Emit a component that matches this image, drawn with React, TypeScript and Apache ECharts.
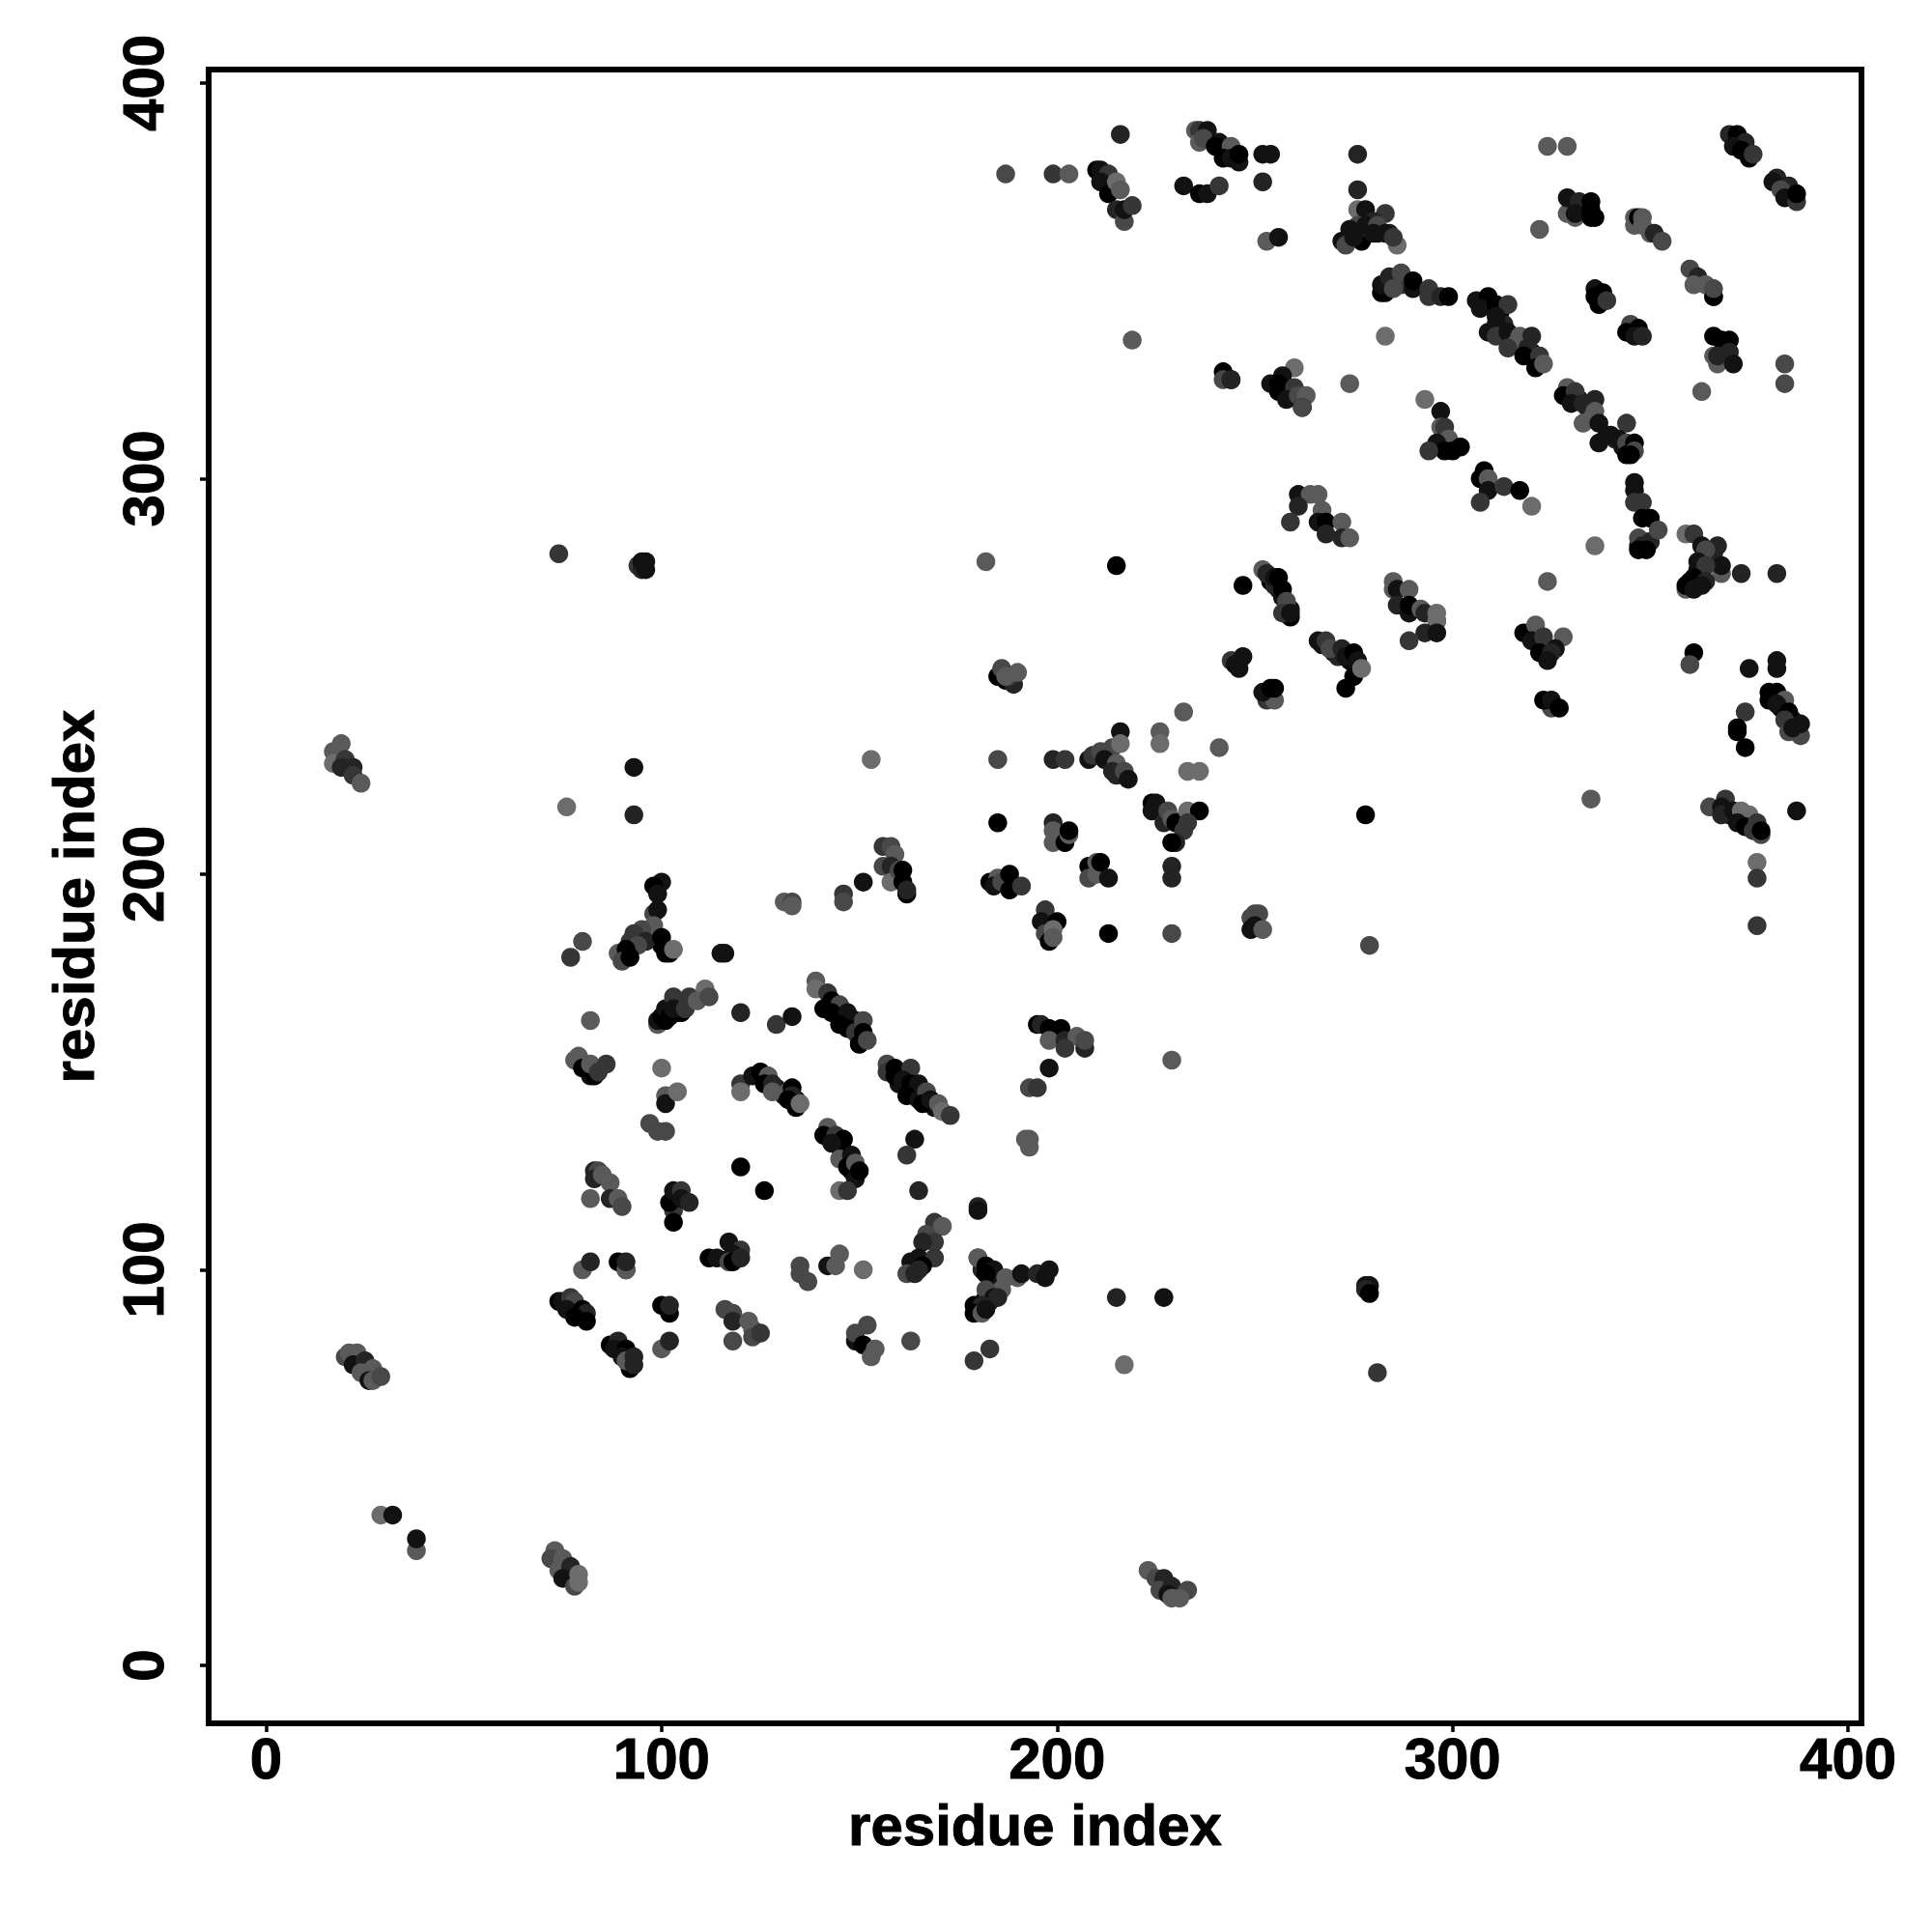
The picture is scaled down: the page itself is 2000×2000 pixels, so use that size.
import React, { useEffect, useRef } from "react";
import * as echarts from "echarts";

// each point: [residue i, residue j, grey level 0 (black) .. 6 (light grey)]
const denseCores = [[254,274,0],[256,272,1],[257,270,1],[258,268,0],[259,267,1],[259,265,0],[255,273,2],
  [267,258,1],[270,256,1],[271,255,2],[274,254,0],[276,252,1],
  [146,164,1],[148,162,2],[149,163,0],[144,166,1],[150,158,1],[158,150,0],[160,147,1],[164,145,0],[167,143,0],[169,141,1],
  [129,146,1],[131,144,1],[134,143,0],[146,130,2],[148,128,0],[148,125,1],[145,131,0],
  [309,344,1],[312,342,0],[313,339,2],[312,337,1],[315,335,2],[317,334,1],[320,332,1],[322,329,0],
  [332,320,1],[334,318,2],[335,316,1],[340,311,1],[343,308,1],[345,307,0],[341,310,2],[349,284,1],[347,283,1],
  [362,277,1],[365,279,1],[363,276,1],[366,281,2],[360,274,1],[362,273,0],
  [274,361,1],[276,362,1],[277,360,0],[279,363,2],[281,362,1],[284,362,2],[283,349,1],[285,350,1],[287,349,3],
  [370,215,1],[373,214,1],[375,213,2],[377,211,1],[381,245,1],[383,242,0],[386,239,1],[387,236,2],
  [92,181,1],[94,183,2],[96,184,1],[91,180,1],[100,182,0],[102,180,0],[100,163,0],[102,166,1],[104,165,1],
  [180,91,1],[183,92,1],[181,100,2],[184,96,2],[183,98,1],[182,93,0]];
const bottomLeft = [[20,78,4],[21,79,5],[23,79,5],[22,76,1],[25,77,2],[24,74,5],[27,75,5],[26,72,1],[27,72,5],[29,73,4],
  [29,38,6],[32,38,1],[38,29,5],[38,32,1],
  [73,29,5],[72,27,4],[75,27,5],[74,24,5],[77,25,2],[75,22,1],[78,20,4],[79,23,6],[79,21,6]];
const bottomMiddle = [[223,24,5],[225,22,4],[227,22,2],[226,19,4],[229,20,2],[228,18,1],[233,19,4],[229,17,5],[231,17,5]];
const leftIsland = [[19,233,5],[17,231,5],[17,228,6],[20,229,3],[19,227,2],[22,227,2],[22,225,3],[24,223,5],
  [74,281,3],[94,278,3],[95,277,2],[96,277,1],[95,279,1],[96,279,1],[93,227,1],[93,215,2],[76,217,6],[153,229,6],[182,279,5],[215,278,0]];
const topOfHelix = [[100,198,1],[98,197,0],[99,195,1],[98,190,4],[99,191,1],[98,187,5],[95,186,4],[93,185,3],[96,183,2],[92,183,3],[100,184,0],
  [94,182,4],[89,180,5],[91,181,0],[90,178,4],[92,179,0],[101,180,0],[103,181,6],[115,180,1],[116,180,1],[80,183,4],[77,179,3]];
const ridgeA = [[82,163,5],[99,162,5],[99,163,1],[100,164,0],[101,163,0],[101,166,1],[102,164,0],[105,165,0],[104,167,1],[103,169,3],[103,166,1],
  [107,169,3],[106,166,3],[111,171,6],[109,168,5],[112,169,4],[120,165,2],[129,162,3],[133,164,1]];
const ridgeB = [[139,173,5],[139,171,6],[142,170,3],[143,168,0],[145,167,4],[141,166,0],[143,165,0],[147,165,1],[145,162,0],[147,161,0],[149,160,3],
  [151,163,4],[151,160,0],[150,157,0],[152,158,4]];
const ridgeC = [[78,153,5],[79,154,5],[81,151,2],[82,149,1],[80,151,0],[83,149,0],[82,152,5],[84,150,3],[86,152,3],[100,151,6],[101,144,5],[101,142,1],[104,145,6],[97,137,4],[99,135,4],[101,135,4]];
const ridgeD = [[120,147,3],[120,145,6],[123,149,1],[125,150,0],[127,149,5],[126,147,0],[128,147,2],[128,145,5],[132,145,5],[133,146,0],[133,144,2],[132,143,0],[134,141,0],[135,142,6]];
const ridgeE = [[157,152,4],[157,150,3],[159,151,0],[159,149,0],[163,151,3],[161,148,1],[163,147,0],[165,147,1],[162,144,0],[165,143,1],[167,145,4],[166,142,0],[168,143,1],[170,142,5],[171,140,6],[173,139,3]];
const ridgeF = [[142,136,5],[141,134,0],[144,134,3],[146,133,0],[143,132,1],[145,128,5],[148,129,1],[147,126,0],[149,127,5],[149,123,1],[150,125,0],[145,120,6],[147,120,3],
  [164,133,1],[162,129,3],[165,120,2],[120,126,0],[126,120,0],[180,116,2],[180,115,1]];
const ridgeG = [[83,125,2],[84,125,4],[83,123,2],[85,124,5],[87,122,5],[82,118,5],[87,118,2],[89,118,5],[90,116,4],
  [103,115,3],[103,112,0],[102,117,0],[103,120,1],[105,120,3],[105,118,1],[107,117,2]];
const ridgeH = [[112,103,0],[114,103,1],[117,107,1],[120,105,3],[118,104,1],[117,102,4],[118,102,0],[120,103,2],
  [80,100,5],[82,102,2],[89,102,0],[91,100,0],[91,100,5],[91,102,2],[135,101,4],[135,99,4],[137,97,4],[142,101,1],[144,101,5],[145,104,5],[151,100,6]];
const ridgeI = [[169,112,3],[171,111,5],[167,109,4],[169,107,3],[166,107,2],[165,103,1],[169,103,3],[163,102,1],[162,99,4],[164,99,2],[166,101,0],[165,100,2],
  [180,103,0],[180,103,5],[182,101,0],[184,100,1],[182,99,0],[187,98,5],[186,95,5],[182,95,4],[184,93,1],[185,93,2],[179,91,0],[181,91,2],[179,89,0],[181,89,5],[182,90,1],
  [190,98,5],[191,99,1],[195,99,2],[197,98,1],[198,100,1],[215,93,2],[227,93,1],[217,76,6],[278,96,1],[279,96,1],[278,95,2],[279,94,0],[281,74,3]];
const ridgeJ = [[74,92,0],[75,92,1],[77,93,3],[78,92,4],[76,90,1],[80,90,0],[81,89,2],[78,88,0],[81,87,0],
  [87,81,0],[89,82,2],[88,80,1],[91,80,0],[90,78,1],[92,75,0],[91,77,5],[93,78,2],[93,76,2],
  [100,91,0],[102,89,0],[102,91,2],[100,80,5],[102,82,2],[116,90,4],[118,89,4],[118,87,2],[118,82,4],[122,87,5],[123,85,5],[123,83,4],[125,84,3],
  [149,82,1],[149,84,4],[151,81,0],[152,86,4],[153,78,5],[154,80,5],[163,82,4],[179,77,3],[183,80,3]];
const centreA = [[185,250,0],[187,249,0],[189,248,2],[186,252,4],[188,250,3],[187,250,5],[190,251,5],[185,229,4],[199,229,2],[202,229,3],
  [208,229,1],[209,230,3],[211,231,4],[214,232,4],[212,229,1],[216,236,1],[216,233,6],[215,228,5],[214,226,2],[215,225,2],[217,226,4],[218,224,1]];
const centreB = [[151,198,1],[146,195,3],[146,193,4],[131,193,5],[133,193,4],[133,192,5],
  [156,207,3],[158,207,4],[159,205,5],[156,202,4],[158,202,2],[158,198,6],[160,201,4],[161,201,0],[161,198,0],[162,195,0],[162,196,2],
  [183,198,0],[185,199,5],[184,197,1],[186,198,4],[188,200,0],[188,196,0],[191,197,3],[185,213,0],
  [199,213,2],[199,211,5],[199,208,5],[202,208,0],[203,210,5],[203,211,0],[208,202,0],[208,199,4],[210,200,5],[210,203,5],[211,203,0],[213,199,1],
  [197,191,3],[196,188,1],[200,188,0],[197,185,4],[198,183,0],[199,186,6],[199,184,5],[213,185,0]];
const centreC = [[232,241,5],[226,236,5],[226,233,6],[241,232,5],[233,226,6],[236,226,6],
  [224,218,0],[225,218,1],[224,216,1],[227,213,2],[228,216,4],[229,214,5],[230,213,0],[233,216,6],[236,216,0],[233,213,3],[232,211,3],[230,208,2],[229,208,0],
  [229,202,2],[229,199,2],[229,185,4],[278,215,0],[279,182,4],[250,190,4],[249,189,4],[251,190,4],[249,186,1],[250,187,1],[252,186,5],
  [195,162,0],[196,162,2],[198,161,0],[201,161,0],[198,158,5],[202,158,2],[205,159,5],[207,156,2],[207,158,4],[202,156,3],[198,151,1],[193,146,4],[195,146,3],[192,133,5],[193,133,5],[193,131,5],[229,153,5]];
const centreD = [[244,254,3],[247,255,1],[246,252,1],[245,253,1],[253,244,3],[255,244,5],[252,246,1],[254,247,0],[255,247,0],[247,273,0],
  [252,277,5],[253,276,2],[255,275,1],[256,275,0],[257,272,0],[258,269,4],[257,266,3],[259,266,1],
  [266,259,1],[268,259,3],[269,257,4],[272,257,2],[273,255,1],[275,256,0],[276,254,1],[275,250,0],[277,252,6],[273,247,0]];
const upperA = [[187,377,4],[199,377,3],[203,377,5],[216,387,2],[210,378,0],[211,378,1],[213,377,3],[211,375,1],[213,372,0],[215,375,6],[216,373,5],[215,368,2],[217,365,4],[217,368,1],[219,369,3],
  [235,388,5],[236,388,3],[238,388,1],[236,385,5],[237,386,4],[241,385,1],[240,384,0],[244,384,5],[242,381,0],[244,381,1],[246,380,1],[246,382,0],
  [252,382,1],[254,382,1],[252,375,2],[232,374,1],[236,372,0],[238,372,1],[241,374,3],[253,360,5],[256,361,1],[219,335,5]];
const upperB = [[276,382,2],[276,373,2],[276,368,6],[278,368,1],[283,367,3],[280,365,2],[276,364,4],[274,363,1],[278,364,1],[281,364,4],[272,360,1],[273,359,4],[275,361,1],[280,362,1],[283,362,1],[286,359,6],[285,361,3]];
const upperC = [[242,327,0],[242,325,4],[244,325,0],[244,325,2],[260,328,6],[257,326,1],[254,324,1],[256,324,0],[256,322,0],[260,323,3],[258,320,1],[261,321,4],[263,321,5],[262,318,0],[262,318,4],[274,324,5],[283,336,6],
  [261,296,1],[264,296,5],[266,296,5],[261,293,2],[259,289,3],[267,292,5],[266,289,1],[268,289,0],[268,286,2],[272,289,5],[272,285,2],[274,285,5]];
const upperD = [[282,347,0],[283,347,0],[282,349,1],[284,351,2],[287,352,4],[285,348,4],[290,348,1],[290,350,0],[294,348,3],[294,346,3],[297,346,2],[299,346,0],
  [306,345,1],[309,346,0],[307,343,1],[311,344,0],[314,344,3],[311,341,1],[309,337,1],[311,339,1],[311,336,3],[314,337,1],[317,336,5],[320,336,2],[316,334,5],[314,333,3],[319,333,2],[318,331,0],[322,331,3],[321,328,0],[323,329,5]];
const upperE = [[329,323,5],[328,321,0],[331,322,3],[330,319,1],[336,320,2],[333,319,2],[336,317,5],[333,314,5],[335,315,5],[337,314,1],[337,309,1],[339,311,1],[344,314,3],[342,310,1],[344,309,4],[344,306,0],[346,309,0],[346,307,4],[345,306,0],
  [346,299,1],[346,297,1],[346,294,3],[348,294,3],[348,290,0],[350,290,0],[347,285,4],[350,284,2],[348,283,2],[347,282,0],[349,282,0],[352,287,4]];
const upperF = [[324,384,5],[329,384,5],[322,363,5],[329,367,5],[331,366,5],[329,371,1],[332,370,2],[331,367,1],[335,370,0],[335,368,0],[335,366,0],[336,366,0],
  [346,364,5],[346,366,5],[347,366,0],[348,366,5],[348,364,5],[350,362,5],[351,362,2],[353,360,4],
  [370,387,2],[372,387,0],[374,385,2],[371,384,1],[373,383,0],[375,381,0],[376,382,3],[382,376,2],[381,375,1],[385,374,2],[383,373,4],[384,371,1],[387,370,3],[387,372,0],
  [360,353,4],[362,351,2],[361,349,5],[364,349,5],[366,346,5],[366,346,0],[366,348,4]];
const upperG = [[336,348,1],[336,346,0],[338,347,0],[337,344,0],[339,345,3],[345,339,4],[344,337,0],[347,338,0],[346,336,1],[348,336,2],
  [366,336,0],[368,335,0],[370,335,0],[366,331,5],[367,329,5],[367,331,2],[370,332,2],[371,329,1],[384,329,4],[384,324,4],[363,322,5]];
const upperH = [[293,320,6],[297,317,1],[297,313,5],[298,313,3],[299,310,5],[296,309,1],[298,307,0],[300,307,0],[302,308,0],[294,307,3],
  [308,302,0],[307,300,0],[309,300,5],[309,297,1],[313,298,3],[317,297,0],[307,294,3],[320,293,6]];
const rightA = [[336,283,6],[359,286,6],[361,286,3],[363,283,1],[367,283,2],[364,282,4],[368,276,5],[368,278,1],[362,279,1],[364,278,3],[361,275,0],[364,274,2],[359,272,5],[359,273,0],[361,272,1],[363,273,1],[373,276,2],[382,276,2],[324,274,5]];
const rightB = [[285,274,5],[285,272,5],[286,272,1],[289,272,5],[286,268,2],[289,266,1],[289,268,0],[292,267,5],[293,266,2],[296,264,1],[296,266,6],[296,264,6],[293,261,2],[296,261,1],[289,259,3],
  [318,261,0],[321,263,5],[320,259,1],[323,260,3],[328,260,5],[322,256,0],[326,257,1],[325,256,2],[324,254,1],[325,242,4],[323,244,0],[325,244,1],[327,242,0]];
const rightC = [[361,256,0],[360,253,4],[375,252,1],[382,254,1],[382,252,1],[380,246,0],[382,246,0],[380,244,0],[384,244,5],[382,243,1],[385,241,0],[384,239,3],[385,236,4],[388,235,4],[386,237,1],[388,238,1],
  [374,241,3],[372,237,0],[372,236,0],[374,232,0],[335,219,5],
  [365,217,4],[369,219,3],[368,217,1],[368,215,2],[371,216,1],[373,216,6],[375,215,6],[372,213,1],[374,212,0],[377,213,3],[376,211,3],[378,210,4],[378,211,0],[387,216,1],[377,203,6],[377,199,3],[377,187,3]];

const pointGroups = [denseCores, bottomLeft, bottomMiddle, leftIsland, topOfHelix, ridgeA, ridgeB, ridgeC, ridgeD, ridgeE, ridgeF, ridgeG, ridgeH, ridgeI, ridgeJ,
  centreA, centreB, centreC, centreD, upperA, upperB, upperC, upperD, upperE, upperF, upperG, upperH, rightA, rightB, rightC];
const tickValues = [0, 100, 200, 300, 400];
const axisTitle = "residue index";
const FONT = "'Liberation Sans', Arial, sans-serif";

function grey(level: number) {
  const v = level * 18;
  return `rgb(${v},${v},${v})`;
}

export default function App() {
  const ref = useRef<HTMLDivElement>(null);
  useEffect(() => {
    const chart = echarts.init(ref.current!, undefined, { renderer: "svg" });
    const data = pointGroups.flat().map((p) => ({ value: [p[0], p[1]], itemStyle: { color: grey(p[2]), opacity: 1 } }));
    const axisCommon = {
      type: "value" as const,
      name: axisTitle,
      nameLocation: "middle" as const,
      splitLine: { show: false },
      axisLine: { show: false, onZero: false },
      axisTick: { show: true, length: 9, customValues: tickValues, lineStyle: { color: "#000", width: 3.5 } },
    };
    const labelStyle = { color: "#000", fontFamily: FONT, fontWeight: "bold" as const, fontSize: 60, textBorderColor: "#000", textBorderWidth: 1 };
    chart.setOption({
      animation: false,
      backgroundColor: "#fff",
      grid: { show: true, left: 216, top: 72, width: 1711, height: 1712, borderColor: "#000", borderWidth: 6, backgroundColor: "transparent" },
      xAxis: {
        ...axisCommon,
        min: -14.53,
        max: 403.4,
        nameGap: 75,
        nameTextStyle: labelStyle,
        axisLabel: { ...labelStyle, margin: 6, customValues: tickValues, showMinLabel: true, showMaxLabel: true, hideOverlap: false },
      },
      yAxis: {
        ...axisCommon,
        min: -14.65,
        max: 403.4,
        nameGap: 110,
        nameRotate: 90,
        nameTextStyle: labelStyle,
        axisLabel: { ...labelStyle, rotate: 90, margin: 38, customValues: tickValues, showMinLabel: true, showMaxLabel: true, hideOverlap: false },
      },
      series: [{ type: "scatter", symbol: "circle", symbolSize: 19.5, data, silent: true, clip: false }],
    });
    return () => chart.dispose();
  }, []);
  return <div ref={ref} style={{ position: "fixed", left: 0, top: 0, width: 2000, height: 2000 }} />;
}
